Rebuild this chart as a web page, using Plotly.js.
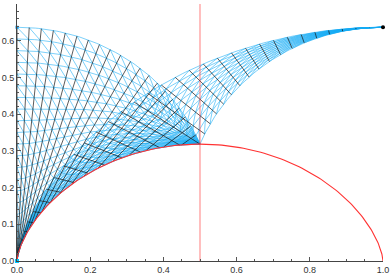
<!DOCTYPE html>
<html><head><meta charset="utf-8">
<script src="https://cdn.plot.ly/plotly-3.0.1.min.js"></script>
<style>html,body{margin:0;padding:0;background:#fff}</style>
</head><body><div id="chart" style="width:390px;height:273px"></div>
<script>
const PI = Math.PI;
// mesh parameters: ray angles (fractions of pi) and fractions across each ray
const leftRayFractions = [0,0.05,0.1,0.15,0.2,0.25,0.3,0.35,0.4,0.45,0.5,0.55,0.6,0.65,0.7,0.75,0.8,0.85,0.9,0.95,1];
const leftAcross = [0,0.05,0.1,0.15,0.2,0.25,0.3,0.35,0.4,0.45,0.5,0.55,0.6,0.65,0.7,0.75,0.8,0.85,0.9,0.95,1];
const rightRayFractions = [0,0.0556,0.1111,0.1667,0.2222,0.2778,0.3333,0.3889,0.4444,0.5,0.5556,0.6111,0.6667,0.7222,0.7778,0.8333,0.8889,0.9444,1,1.0556,1.1111,1.1667,1.2222,1.2778,1.3333,1.3889,1.4444,1.5,1.5556,1.6111,1.6667,1.7222,1.7778,1.8333,1.8889,1.9444,2];
const rightAcross = [0,0.1,0.2,0.3,0.4,0.5,0.6,0.7,0.8,0.9,1];
const arcLength = 2/PI;          // boundary arc length of the left region
const redA = 1/(2*PI);           // red cycloid (arch from 0 to 1)
const upperA = 1/PI;             // upper cycloid ending at the black dot
const dotPoint = {x:[1], y:[2/PI]};
const originPoint = {x:[0], y:[0]};
const topLeftPoint = {x:[0], y:[2/PI]};
const midLine = {x:[0.5,0.5], y:[0,0.7]};

function cyc(a, th){ return [a*(th-Math.sin(th)), a*(1-Math.cos(th))]; }
function aE(th){ return arcLength/(8*Math.pow(Math.sin(th/4),2)); }
function leftP(th, f){
  if (th < 1e-9) return [0, f*arcLength];
  return cyc(redA + f*(aE(th)-redA), th);
}
function aOuter(th){
  const cx = th-Math.sin(th), cy = 1-Math.cos(th);
  let lo=0, hi=PI;
  for (let k=0;k<60;k++){
    const m=(lo+hi)/2;
    const mx = 1-upperA*(m-Math.sin(m)), my = upperA*(1-Math.cos(m));
    if (mx*cy - my*cx > 0) lo=m; else hi=m;
  }
  const m=(lo+hi)/2;
  const mx = 1-upperA*(m-Math.sin(m)), my = upperA*(1-Math.cos(m));
  return cy>1e-9 ? my/cy : mx/cx;
}
function rightP(th, f){
  if (th < 1e-9) return [1, arcLength];
  const ai = Math.max(aE(th), redA), ao = aOuter(th);
  const p = cyc(ai + f*(ao-ai), th);
  return [1-p[0], p[1]];
}

const bx=[],by=[],kx=[],ky=[];
function addPath(X,Y,fn,n){ for(let i=0;i<=n;i++){const p=fn(i/n);X.push(p[0]);Y.push(p[1]);} X.push(null);Y.push(null);}
function buildMesh(P, rays, across){
  rays.forEach(r=>addPath(kx,ky,t=>P(r*PI, t),1));
  across.forEach(f=>{
    const xs=[],ys=[];
    for(let i=0;i<rays.length-1;i++){
      for(let k=0;k<4;k++){const th=(rays[i]+(rays[i+1]-rays[i])*k/4)*PI;const p=P(th,f);xs.push(p[0]);ys.push(p[1]);}
    }
    const p=P(rays[rays.length-1]*PI,f);xs.push(p[0]);ys.push(p[1]);
    bx.push(...xs,null);by.push(...ys,null);
  });
  for(let i=0;i<rays.length-1;i++){
    for(let j=0;j<across.length-1;j++){
      const t0=rays[i]*PI,t1=rays[i+1]*PI,f0=across[j+1],f1=across[j];
      addPath(bx,by,t=>P(t0+(t1-t0)*t, f0+(f1-f0)*t),3);
    }
  }
}
buildMesh(leftP, leftRayFractions, leftAcross);
buildMesh(rightP, rightRayFractions, rightAcross);
const rx=[],ry=[]; addPath(rx,ry,t=>cyc(redA, 2*PI*t),200);

const traces=[
 {x:bx,y:by,mode:'lines',line:{color:'rgba(20,170,245,0.8)',width:0.7},hoverinfo:'skip'},
 {x:kx,y:ky,mode:'lines',line:{color:'#151515',width:0.7},hoverinfo:'skip'},
 {x:rx,y:ry,mode:'lines',line:{color:'rgb(255,50,50)',width:1.1},hoverinfo:'skip'},
 {x:midLine.x,y:midLine.y,mode:'lines',line:{color:'rgba(255,60,60,0.55)',width:1.2},hoverinfo:'skip'},
 {x:dotPoint.x,y:dotPoint.y,mode:'markers',marker:{color:'#000',size:4},hoverinfo:'skip',cliponaxis:false},
 {x:originPoint.x,y:originPoint.y,mode:'markers',marker:{color:'rgb(0,200,255)',size:4,symbol:'square'},hoverinfo:'skip',cliponaxis:false},
 {x:topLeftPoint.x,y:topLeftPoint.y,mode:'markers',marker:{color:'rgb(20,150,230)',size:3,symbol:'square'},hoverinfo:'skip',cliponaxis:false}
];
const tf={family:'Liberation Sans, Arial, sans-serif',size:9,color:'#333'};
const axisCommon={showgrid:false,zeroline:false,showline:true,linecolor:'#444',linewidth:1,ticks:'inside',ticklen:4,tickcolor:'#555',tickformat:'.1f',tickfont:tf};
const layout={width:390,height:273,margin:{l:17,r:7,t:4,b:12},showlegend:false,plot_bgcolor:'#fff',paper_bgcolor:'#fff',
 xaxis:Object.assign({},axisCommon,{range:[0,1],dtick:0.2,tick0:0,minor:{dtick:0.05,ticklen:2.5,ticks:'inside',tickcolor:'#555'}}),
 yaxis:Object.assign({},axisCommon,{range:[0,0.7],dtick:0.1,tick0:0,minor:{dtick:0.02,ticklen:2,ticks:'inside',tickcolor:'#555'}})};
Plotly.newPlot('chart',traces,layout,{staticPlot:true});
</script></body></html>
